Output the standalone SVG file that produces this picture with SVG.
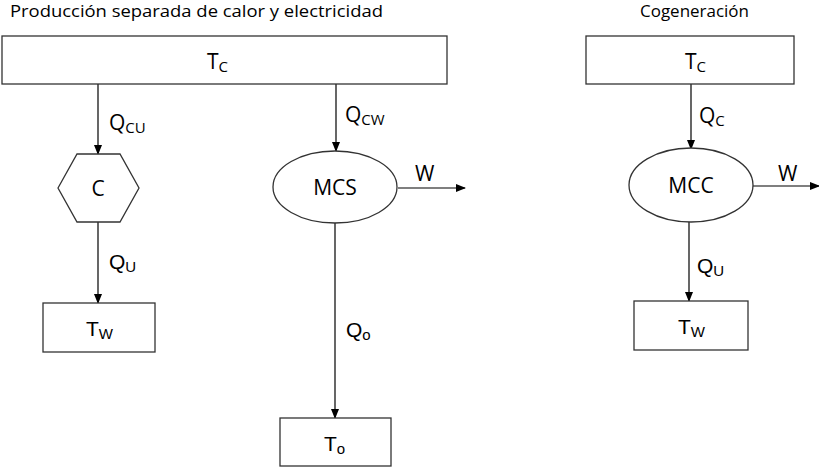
<svg xmlns="http://www.w3.org/2000/svg" width="819" height="470" viewBox="0 0 819 470">
<defs>
<marker id="ah" markerWidth="10" markerHeight="8" refX="9" refY="4" orient="auto" markerUnits="userSpaceOnUse">
<path d="M0,0 L10,4 L0,8 Z" fill="#000"/>
</marker>
<style>
.box{fill:#fff;stroke:#333;stroke-width:1.3}
.c{stroke:#000;stroke-width:1.2;fill:none;marker-end:url(#ah)}
.t{font-family:"Open Sans","Liberation Sans",sans-serif;font-size:21px;fill:#000}
.a{font-family:"Liberation Sans",Arial,sans-serif;font-size:21px;fill:#000}
.s{font-size:15px}
.ttl{font-family:"Open Sans","Liberation Sans",sans-serif;font-size:16px;fill:#000}
</style>
</defs>
<text class="ttl" x="10" y="17" textLength="373" lengthAdjust="spacingAndGlyphs">Producción separada de calor y electricidad</text>
<text class="ttl" x="640" y="17" textLength="109" lengthAdjust="spacingAndGlyphs">Cogeneración</text>
<g id="connectors">
<line class="c" x1="98" y1="84" x2="98" y2="154"/>
<line class="c" x1="98" y1="222" x2="98" y2="303"/>
<line class="c" x1="336" y1="84" x2="336" y2="151"/>
<line class="c" x1="398" y1="188" x2="465" y2="188"/>
<line class="c" x1="335" y1="223" x2="335" y2="418"/>
<line class="c" x1="691" y1="84" x2="691" y2="149"/>
<line class="c" x1="753" y1="186" x2="819" y2="186"/>
<line class="c" x1="689" y1="222" x2="689" y2="301"/>
</g>
<g id="labels">
<text class="t" x="109" y="130">Q<tspan class="s" dy="3">CU</tspan></text>
<text class="a" x="109" y="269">Q<tspan class="s" dy="3">U</tspan></text>
<text class="t" x="345" y="122">Q<tspan class="s" dy="3">CW</tspan></text>
<text class="t" x="415" y="181">W</text>
<text class="a" x="346" y="337">Q<tspan class="s" dy="3">o</tspan></text>
<text class="t" x="699" y="123">Q<tspan class="s" dy="3">C</tspan></text>
<text class="t" x="778" y="181">W</text>
<text class="a" x="697" y="273">Q<tspan class="s" dy="3">U</tspan></text>
</g>
<g id="TC1">
<rect class="box" x="2" y="36" width="445" height="48"/>
<text class="t" x="207" y="69">T<tspan class="s" dy="3">C</tspan></text>
</g>
<g id="C">
<polygon class="box" points="58,188 77,154 120,154 139,188 120,222 77,222"/>
<text class="t" x="98" y="196" text-anchor="middle">C</text>
</g>
<g id="TW1">
<rect class="box" x="43" y="303" width="112" height="49"/>
<text class="a" x="86" y="336">T<tspan class="s" dy="3">W</tspan></text>
</g>
<g id="MCS">
<ellipse class="box" cx="335" cy="187" rx="62" ry="36"/>
<text class="t" x="335" y="195" text-anchor="middle">MCS</text>
</g>
<g id="To">
<rect class="box" x="280" y="418" width="111" height="48"/>
<text class="a" x="324" y="451">T<tspan class="s" dy="3">o</tspan></text>
</g>
<g id="TC2">
<rect class="box" x="586" y="36" width="208" height="48"/>
<text class="t" x="685" y="69">T<tspan class="s" dy="3">C</tspan></text>
</g>
<g id="MCC">
<ellipse class="box" cx="691" cy="185" rx="62" ry="37"/>
<text class="t" x="691" y="193" text-anchor="middle">MCC</text>
</g>
<g id="TW2">
<rect class="box" x="634" y="301" width="114" height="49"/>
<text class="a" x="678" y="334">T<tspan class="s" dy="3">W</tspan></text>
</g>
</svg>
